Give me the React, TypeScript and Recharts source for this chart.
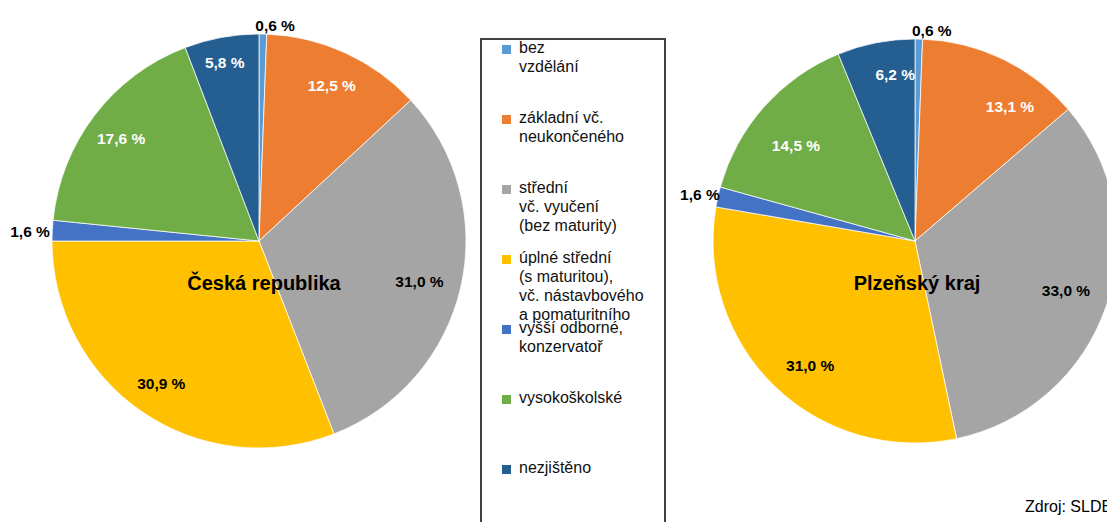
import React from 'react';
import { Cell, Pie, PieChart } from 'recharts';

const categories = [
  'bez vzdělání',
  'základní vč. neukončeného',
  'střední vč. vyučení (bez maturity)',
  'úplné střední (s maturitou), vč. nástavbového a pomaturitního',
  'vyšší odborné, konzervatoř',
  'vysokoškolské',
  'nezjištěno',
];

const legendLines = [
  ['bez', 'vzdělání'],
  ['základní vč.', 'neukončeného'],
  ['střední', 'vč. vyučení', '(bez maturity)'],
  ['úplné střední', '(s maturitou),', 'vč. nástavbového', 'a pomaturitního'],
  ['vyšší odborné,', 'konzervatoř'],
  ['vysokoškolské'],
  ['nezjištěno'],
];

const czValues = [0.6, 12.5, 31.0, 30.9, 1.6, 17.6, 5.8];
const plzValues = [0.6, 13.1, 33.0, 31.0, 1.6, 14.5, 6.2];

const colors = ['#5B9BD5', '#ED7D31', '#A5A5A5', '#FFC000', '#4472C4', '#70AD47', '#255E91'];
const labelColors = ['#000', '#fff', '#000', '#000', '#000', '#fff', '#fff'];

// label placement: radius as a fraction of the pie radius, and angle nudge in degrees
const czLabelRadius = [1.042, 0.83, 0.8, 0.836, 1.107, 0.829, 0.88];
const czLabelShift = [-3.2, -0.4, -1.3, 0, 0.4, 0.9, 0.4];
const plzLabelRadius = [1.043, 0.817, 0.786, 0.807, 1.089, 0.757, 0.832];
const plzLabelShift = [-3.5, -9.4, 0.7, 3.9, 0.5, 2.7, -4.4];

const FONT = '"Liberation Sans", Arial, sans-serif';
const RAD = Math.PI / 180;

const toRows = (values: number[]) => categories.map((name, i) => ({ name, value: values[i] }));

const makeLabel = (radius: number[], shift: number[]) => (props: any) => {
  const { cx, cy, midAngle, outerRadius, index, value } = props;
  const a = (midAngle + shift[index]) * RAD;
  const r = outerRadius * radius[index];
  const x = cx + r * Math.cos(a);
  const y = cy - r * Math.sin(a);
  return (
    <text
      x={x}
      y={y}
      textAnchor="middle"
      dominantBaseline="central"
      fill={labelColors[index]}
      fontFamily={FONT}
      fontSize={15.5}
      fontWeight="bold"
    >
      {value.toFixed(1).replace('.', ',') + ' %'}
    </text>
  );
};

export default function App() {
  return (
    <div
      style={{
        position: 'absolute',
        left: 0,
        top: 0,
        width: 1107,
        height: 522,
        overflow: 'hidden',
        background: '#fff',
        fontFamily: FONT,
      }}
    >
      <PieChart width={1107} height={522} margin={{ top: 0, right: 0, bottom: 0, left: 0 }}>
        <Pie
          data={toRows(czValues)}
          dataKey="value"
          nameKey="name"
          cx={259}
          cy={241}
          outerRadius={207}
          startAngle={90}
          endAngle={-270}
          stroke="#fff"
          strokeWidth={0.75}
          label={makeLabel(czLabelRadius, czLabelShift)}
          labelLine={false}
          isAnimationActive={false}
        >
          {czValues.map((_, i) => (
            <Cell key={i} fill={colors[i]} />
          ))}
        </Pie>
        <Pie
          data={toRows(plzValues)}
          dataKey="value"
          nameKey="name"
          cx={915}
          cy={241}
          outerRadius={202}
          startAngle={90}
          endAngle={-270}
          stroke="#fff"
          strokeWidth={0.75}
          label={makeLabel(plzLabelRadius, plzLabelShift)}
          labelLine={false}
          isAnimationActive={false}
        >
          {plzValues.map((_, i) => (
            <Cell key={i} fill={colors[i]} />
          ))}
        </Pie>
      </PieChart>

      <div style={{ position: 'absolute', left: 264, top: 283, transform: 'translate(-50%, -50%)', fontSize: 20, fontWeight: 'bold', whiteSpace: 'nowrap' }}>
        Česká republika
      </div>
      <div style={{ position: 'absolute', left: 917, top: 283, transform: 'translate(-50%, -50%)', fontSize: 20, fontWeight: 'bold', whiteSpace: 'nowrap' }}>
        Plzeňský kraj
      </div>

      <div
        style={{
          position: 'absolute',
          left: 480,
          top: 38,
          width: 186,
          height: 500,
          boxSizing: 'border-box',
          border: '2px solid #404040',
          background: '#fff',
        }}
      >
        {legendLines.map((lines, i) => (
          <div key={categories[i]} style={{ position: 'absolute', left: 0, top: i * 70 - 2.5, height: 70, width: '100%' }}>
            <div style={{ position: 'absolute', left: 20, top: 7, width: 9, height: 9, background: colors[i] }} />
            <div style={{ position: 'absolute', left: 37, top: 0, fontSize: 16, lineHeight: '19px', color: '#111', whiteSpace: 'nowrap' }}>
              {lines.map((l) => (
                <div key={l}>{l}</div>
              ))}
            </div>
          </div>
        ))}
      </div>

      <div style={{ position: 'absolute', left: 1025, top: 497, fontSize: 16, lineHeight: '20px', whiteSpace: 'nowrap', color: '#000' }}>
        Zdroj: SLDB
      </div>
    </div>
  );
}
